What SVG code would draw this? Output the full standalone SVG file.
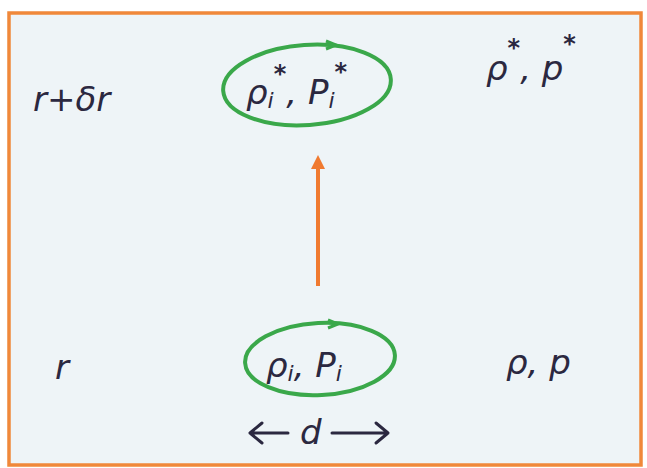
<svg xmlns="http://www.w3.org/2000/svg" width="647" height="468" viewBox="0 0 647 468">
<defs>
<style>
.t{font-family:"DejaVu Sans","Liberation Sans",sans-serif;fill:#2b2840;font-size:34px;font-style:italic}
.sub{font-size:22px}
.sup{font-size:24px;font-style:normal;font-weight:bold}
.ring{fill:none;stroke:#3aa84a;stroke-width:4}
.frame{fill:#eef4f7;stroke:#f0883a;stroke-width:3.5}
.con{stroke:#f07a30;stroke-width:4;fill:none}
.dim{stroke:#2b2840;stroke-width:3;fill:none;stroke-linecap:round;stroke-linejoin:round}
</style>
<marker id="ah" viewBox="0 0 10 10" refX="5" refY="5" markerWidth="3.5" markerHeight="5" orient="auto">
<path d="M0,0 L10,5 L0,10 z" fill="#f07a30"/>
</marker>
</defs>
<rect x="0" y="0" width="647" height="468" fill="#ffffff"/>
<rect class="frame" x="9" y="13" width="632" height="452"/>

<g id="label-r-dr">
<text class="t" x="33" y="111">r+δr</text>
</g>
<g id="label-r">
<text class="t" x="55" y="379">r</text>
</g>

<g id="node-top">
<ellipse class="ring" cx="307" cy="85" rx="84" ry="40" transform="rotate(-4 307 85)"/>
<path d="M326,41 l10,4 l-10,4" stroke="#3aa84a" stroke-width="3" fill="none"/>
<text class="t" x="246" y="104">ρ<tspan class="sub" dy="4">i</tspan><tspan class="sup" dy="-26">*</tspan><tspan dy="22">, P</tspan><tspan class="sub" dy="4">i</tspan><tspan class="sup" dy="-28">*</tspan></text>
</g>

<g id="node-top-right">
<text class="t" x="486" y="80">ρ<tspan class="sup" dy="-24">*</tspan><tspan dy="24">, p</tspan><tspan class="sup" dy="-28">*</tspan></text>
</g>

<g id="node-bottom">
<ellipse class="ring" cx="320" cy="359" rx="75" ry="36" transform="rotate(-3 320 359)"/>
<path d="M328,320 l10,4 l-10,4" stroke="#3aa84a" stroke-width="3" fill="none"/>
<text class="t" x="266" y="377">ρ<tspan class="sub" dy="4">i</tspan><tspan dy="-4">, P</tspan><tspan class="sub" dy="4">i</tspan></text>
</g>

<g id="node-bottom-right">
<text class="t" x="506" y="374">ρ, p</text>
</g>

<g id="connectors">
<line class="con" x1="318" y1="286" x2="318" y2="162" marker-end="url(#ah)"/>
</g>

<g id="dimension-d">
<path class="dim" d="M250,433 H288 M262,423 L250,433 L262,443"/>
<text class="t" x="300" y="444" font-size="30">d</text>
<path class="dim" d="M332,433 H388 M376,423 L388,433 L376,443"/>
</g>
</svg>
